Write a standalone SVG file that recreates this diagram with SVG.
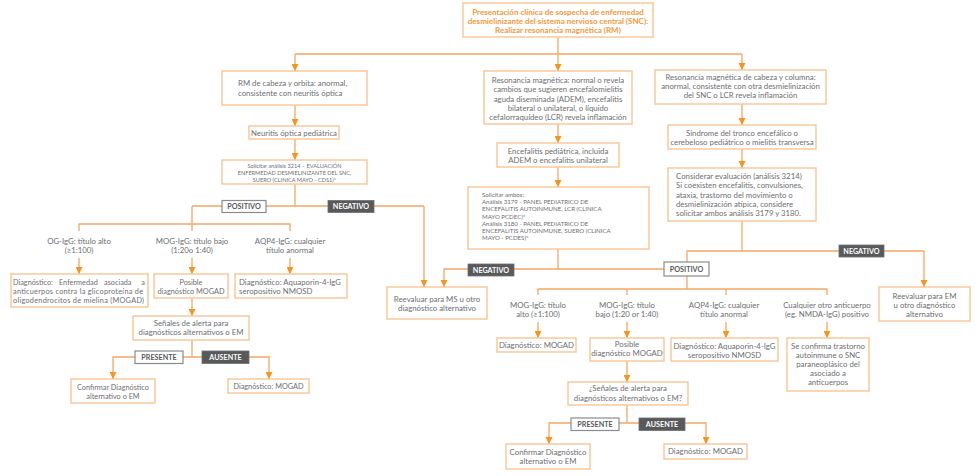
<svg xmlns="http://www.w3.org/2000/svg" width="980" height="476" viewBox="0 0 980 476">
<style>
.bx{fill:#fff;stroke:#f9c594;stroke-width:1.4}
.t{font-family:Lato,"Open Sans","Liberation Sans",sans-serif;font-size:7.8px;fill:#6d6e71}
.c{text-anchor:middle}
.s{font-size:5.6px}
.m{font-size:6.1px}
.sm{font-size:7.3px}
.title{font-family:Lato,"Open Sans","Liberation Sans",sans-serif;font-size:8px;font-weight:bold;fill:#f39a3b;text-anchor:middle}
.ln{fill:none;stroke:#f5a862;stroke-width:1.3}
.ar{marker-end:url(#ah)}
.lp{fill:#fff;stroke:#8a8b8d;stroke-width:1.2}
.ln2{fill:#58595b;stroke:#6d6e71;stroke-width:0.8}
.lt{font-family:Lato,"Open Sans","Liberation Sans",sans-serif;font-size:7.2px;font-weight:bold;text-anchor:middle;fill:#58595b}
.lw{fill:#fff}
</style>
<defs>
<marker id="ah" viewBox="0 0 10 10" refX="10" refY="5" markerWidth="8" markerHeight="7" markerUnits="userSpaceOnUse" orient="auto">
<path d="M0,0 L10,5 L0,10 z" fill="#f7941d"/>
</marker>
</defs>

<g id="connectors">
<path class="ln" d="M558,37 V54 M295,54 H742"/>
<path class="ln ar" d="M295,54 V71"/>
<path class="ln ar" d="M558,54 V71"/>
<path class="ln ar" d="M742,54 V70"/>
<path class="ln ar" d="M295,105 V126"/>
<path class="ln ar" d="M295,139 V160"/>
<path class="ln" d="M295,184 V206 M192,206 H424 M192,206 V231 M79,231 V224 H290 V231"/>
<path class="ln ar" d="M424,206 V287"/>
<path class="ln ar" d="M79,258 V274"/>
<path class="ln ar" d="M192,258 V274"/>
<path class="ln ar" d="M290,258 V274"/>
<path class="ln ar" d="M192,298 V316"/>
<path class="ln" d="M192,340 V357"/>
<path class="ln ar" d="M192,357 H113 V379"/>
<path class="ln ar" d="M192,357 H269 V379"/>
<path class="ln ar" d="M558,124 V143"/>
<path class="ln ar" d="M558,167 V187"/>
<path class="ln" d="M558,249 V269"/>
<path class="ln ar" d="M664,269 H444 V287"/>
<path class="ln ar" d="M742,104 V125"/>
<path class="ln ar" d="M742,149 V168"/>
<path class="ln" d="M742,221 V251 M687,262 V251 H924"/>
<path class="ln ar" d="M924,251 V287"/>
<path class="ln" d="M687,276 V289 M538,295 V289 H827 V295 M627,289 V295 M726,289 V295"/>
<path class="ln ar" d="M538,322 V338"/>
<path class="ln ar" d="M627,322 V338"/>
<path class="ln ar" d="M726,322 V338"/>
<path class="ln ar" d="M827,322 V338"/>
<path class="ln ar" d="M627,361 V382"/>
<path class="ln" d="M627,405 V423"/>
<path class="ln ar" d="M627,423 H549 V444"/>
<path class="ln ar" d="M627,423 H706 V444"/>
</g>

<g id="labels">
<g id="lbl-pos-1"><rect class="lp" x="222" y="200.5" width="44" height="12"/><text class="lt" x="244" y="209.3">POSITIVO</text></g>
<g id="lbl-neg-1"><rect class="ln2" x="328" y="200.5" width="46" height="12"/><text class="lt lw" x="351" y="209.3">NEGATIVO</text></g>
<g id="lbl-pre-1"><rect class="lp" x="135" y="351" width="48" height="12.5"/><text class="lt" x="159" y="360">PRESENTE</text></g>
<g id="lbl-aus-1"><rect class="ln2" x="202" y="351" width="47" height="12.5"/><text class="lt lw" x="225.5" y="360">AUSENTE</text></g>
<g id="lbl-neg-2"><rect class="ln2" x="468" y="264" width="46" height="12"/><text class="lt lw" x="491" y="272.8">NEGATIVO</text></g>
<g id="lbl-neg-3"><rect class="ln2" x="839" y="245" width="45" height="12"/><text class="lt lw" x="861.5" y="253.8">NEGATIVO</text></g>
<g id="lbl-pos-2"><rect class="lp" x="664" y="262" width="45" height="14"/><text class="lt" x="686.5" y="271.8">POSITIVO</text></g>
<g id="lbl-pre-2"><rect class="lp" x="571" y="418" width="48" height="12.5"/><text class="lt" x="595" y="427">PRESENTE</text></g>
<g id="lbl-aus-2"><rect class="ln2" x="639" y="418" width="46" height="12.5"/><text class="lt lw" x="662" y="427">AUSENTE</text></g>
</g>

<g id="n-top"><rect class="bx" x="463" y="3" width="190" height="34"/>
<text class="title" x="558" y="15">Presentación clínica de sospecha de enfermedad</text>
<text class="title" x="558" y="24">desmielinizante del sistema nervioso central (SNC):</text>
<text class="title" x="558" y="33">Realizar resonancia magnética (RM)</text></g>

<g id="n-rm-orbita"><rect class="bx" x="222" y="71" width="145" height="34"/>
<text class="t" x="238" y="86">RM de cabeza y orbita: anormal,</text>
<text class="t" x="238" y="96">consistente con neuritis óptica</text></g>

<g id="n-neuritis"><rect class="bx" x="249" y="126" width="90" height="13"/>
<text class="t c" x="294" y="135.5">Neuritis óptica pediátrica</text></g>

<g id="n-sol-3214"><rect class="bx" x="222" y="160" width="145" height="24"/>
<text class="t c s" x="294.5" y="168">Solicitar análisis 3214 – EVALUACIÓN</text>
<text class="t c s" x="294.5" y="175.2">ENFERMEDAD DESMIELINIZANTE DEL SNC,</text>
<text class="t c s" x="294.5" y="182.4">SUERO (CLINICA MAYO - CDS1)*</text></g>

<g id="n-og-alto">
<text class="t c" x="79" y="244">OG-IgG: título alto</text>
<text class="t c" x="79" y="253">(≥1:100)</text></g>
<g id="n-mog-bajo-1">
<text class="t c" x="192" y="244">MOG-IgG: título bajo</text>
<text class="t c" x="192" y="253">(1:20o 1:40)</text></g>
<g id="n-aqp4-1">
<text class="t c" x="290" y="244">AQP4-IgG: cualquier</text>
<text class="t c" x="290" y="253">título anormal</text></g>

<g id="n-diag-mogad-1"><rect class="bx" x="11" y="274" width="137" height="33"/>
<text class="t sm" y="284.5"><tspan x="13">Diagnóstico:</tspan> <tspan x="59">Enfermedad</tspan> <tspan x="104">asociada</tspan> <tspan x="145" text-anchor="end">a</tspan></text>
<text class="t sm" x="13" y="293.5" textLength="130" lengthAdjust="spacing">anticuerpos contra la glicoproteína de</text>
<text class="t sm" x="13" y="302.5" textLength="131" lengthAdjust="spacing">oligodendrocitos de mielina (MOGAD)</text></g>

<g id="n-posible-1"><rect class="bx" x="154" y="274" width="74" height="24"/>
<text class="t c sm" x="191" y="284.5">Posible</text>
<text class="t c sm" x="191" y="293.5">diagnóstico MOGAD</text></g>

<g id="n-aqp4-diag-1"><rect class="bx" x="235" y="274" width="112" height="24"/>
<text class="t" x="239" y="284.5">Diagnóstico: Aquaporin-4-IgG</text>
<text class="t" x="239" y="293.5">seropositivo NMOSD</text></g>

<g id="n-senales-1"><rect class="bx" x="133" y="316" width="116" height="24"/>
<text class="t c" x="191" y="326">Señales de alerta para</text>
<text class="t c" x="191" y="335">diagnósticos alternativos o EM</text></g>

<g id="n-confirmar-1"><rect class="bx" x="71" y="379" width="84" height="24"/>
<text class="t c sm" x="113" y="389.5">Confirmar Diagnóstico</text>
<text class="t c sm" x="113" y="398.5">alternativo o EM</text></g>

<g id="n-mogad-2"><rect class="bx" x="228" y="379" width="81" height="14"/>
<text class="t c sm" x="268.5" y="388.8">Diagnóstico: MOGAD</text></g>

<g id="n-rm-normal"><rect class="bx" x="484" y="71" width="148" height="53"/>
<text class="t c" x="558" y="83">Resonancia magnética: normal o revela</text>
<text class="t c" x="558" y="92.3">cambios que sugieren encefalomielitis</text>
<text class="t c" x="558" y="101.6">aguda diseminada (ADEM), encefalitis</text>
<text class="t c" x="558" y="110.6">bilateral o unilateral, o líquido</text>
<text class="t c" x="558" y="119.6">cefalorraquídeo (LCR) revela inflamación</text></g>

<g id="n-encefalitis"><rect class="bx" x="497" y="143" width="122" height="24"/>
<text class="t c" x="558" y="154">Encefalitis pediátrica, incluida</text>
<text class="t c" x="558" y="163">ADEM o encefalitis unilateral</text></g>

<g id="n-sol-ambos"><rect class="bx" x="468" y="187" width="181" height="62"/>
<text class="t m" x="482" y="197">Solicitar ambos:</text>
<text class="t m" x="482" y="204.2">Análisis 3179 - PANEL PEDIATRICO DE</text>
<text class="t m" x="482" y="211.4">ENCEFALITIS AUTOINMUNE, LCR (CLINICA</text>
<text class="t m" x="482" y="218.6">MAYO PCDEC)*</text>
<text class="t m" x="482" y="225.8">Análisis 3180 - PANEL PEDIATRICO DE</text>
<text class="t m" x="482" y="233">ENCEFALITIS AUTOINMUNE, SUERO (CLINICA</text>
<text class="t m" x="482" y="240.2">MAYO - PCDES)*</text></g>

<g id="n-reeval-ms"><rect class="bx" x="387" y="287" width="100" height="32"/>
<text class="t c" x="437" y="301.5">Reevaluar para MS u otro</text>
<text class="t c" x="437" y="310.5">diagnóstico alternativo</text></g>

<g id="n-rm-columna"><rect class="bx" x="655" y="70" width="171" height="34"/>
<text class="t c" x="740.5" y="79.8">Resonancia magnética de cabeza y columna:</text>
<text class="t c" x="740.5" y="89">anormal, consistente con otra desmielinización</text>
<text class="t c" x="740.5" y="98.2">del SNC o LCR revela inflamación</text></g>

<g id="n-sindrome"><rect class="bx" x="668" y="125" width="148" height="24"/>
<text class="t c" x="742" y="136">Síndrome del tronco encefálico o</text>
<text class="t c" x="742" y="145">cerebeloso pediátrico o mielitis transversa</text></g>

<g id="n-considerar"><rect class="bx" x="668" y="168" width="148" height="53"/>
<text class="t" x="676" y="179">Considerar evaluación (análisis 3214)</text>
<text class="t" x="676" y="188.3">Si coexisten encefalitis, convulsiones,</text>
<text class="t" x="676" y="197.6">ataxia, trastorno del movimiento o</text>
<text class="t" x="676" y="206.9">desmielinización atípica, considere</text>
<text class="t" x="676" y="216.2">solicitar ambos análisis 3179 y 3180.</text></g>

<g id="n-reeval-em"><rect class="bx" x="879" y="287" width="91" height="34"/>
<text class="t c" x="924.5" y="299">Reevaluar para EM</text>
<text class="t c" x="924.5" y="308.2">u otro diagnóstico</text>
<text class="t c" x="924.5" y="317.4">alternativo</text></g>

<g id="n-mog-alto-2">
<text class="t c" x="538" y="308">MOG-IgG: título</text>
<text class="t c" x="538" y="316.5">alto (≥1:100)</text></g>
<g id="n-mog-bajo-2">
<text class="t c" x="627" y="308">MOG-IgG: título</text>
<text class="t c" x="627" y="316.5">bajo (1:20 or 1:40)</text></g>
<g id="n-aqp4-2">
<text class="t c" x="724" y="308">AQP4-IgG: cualquier</text>
<text class="t c" x="724" y="316.5">título anormal</text></g>
<g id="n-otro">
<text class="t c" x="827" y="308">Cualquier otro anticuerpo</text>
<text class="t c" x="827" y="316.5">(eg. NMDA-IgG) positivo</text></g>

<g id="n-mogad-3"><rect class="bx" x="497" y="338" width="79" height="14"/>
<text class="t c" x="536.5" y="347.8">Diagnóstico: MOGAD</text></g>

<g id="n-posible-2"><rect class="bx" x="590" y="338" width="74" height="23"/>
<text class="t c" x="627" y="347.3">Posible</text>
<text class="t c" x="627" y="356.3">diagnóstico MOGAD</text></g>

<g id="n-aqp4-diag-2"><rect class="bx" x="671" y="338" width="107" height="23"/>
<text class="t c" x="724.5" y="348.5">Diagnóstico: Aquaporin-4-IgG</text>
<text class="t c" x="724.5" y="357.5">seropositivo NMOSD</text></g>

<g id="n-confirma-trastorno"><rect class="bx" x="787" y="338" width="82" height="53"/>
<text class="t c" x="828" y="349">Se confirma trastorno</text>
<text class="t c" x="828" y="358">autoinmune o SNC</text>
<text class="t c" x="828" y="367">paraneoplásico del</text>
<text class="t c" x="828" y="376">asociado a</text>
<text class="t c" x="828" y="385">anticuerpos</text></g>

<g id="n-senales-2"><rect class="bx" x="568" y="382" width="120" height="23"/>
<text class="t c" x="628" y="391.3">¿Señales de alerta para</text>
<text class="t c" x="628" y="401">diagnósticos alternativos o EM?</text></g>

<g id="n-confirmar-2"><rect class="bx" x="506" y="444" width="84" height="25"/>
<text class="t c" x="548" y="455">Confirmar Diagnóstico</text>
<text class="t c" x="548" y="464">alternativo o EM</text></g>

<g id="n-mogad-4"><rect class="bx" x="664" y="444" width="83" height="15"/>
<text class="t c" x="705.5" y="454.3">Diagnóstico: MOGAD</text></g>
</svg>
